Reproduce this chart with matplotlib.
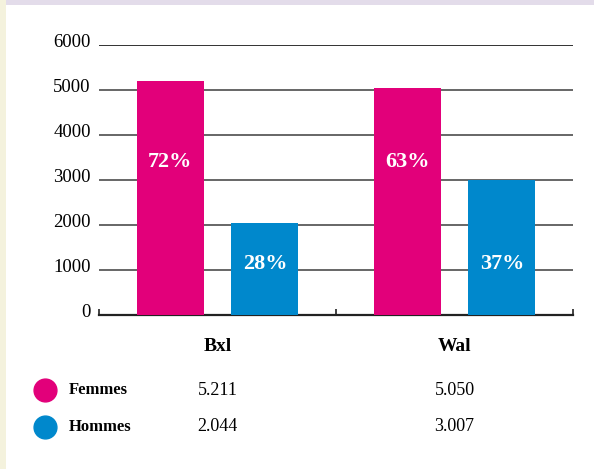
import matplotlib
matplotlib.use("Agg")
import matplotlib.pyplot as plt
import matplotlib.transforms as mtransforms
from matplotlib.patches import Rectangle

# ── Data ─────────────────────────────────────────────────────────────────────
categories = ["Bxl", "Wal"]
femmes     = [5211, 5050]
hommes     = [2044, 3007]
series     = ["Femmes", "Hommes"]
yticks     = [0, 1000, 2000, 3000, 4000, 5000, 6000]

PINK = "#e2007a"
BLUE = "#0088cc"
plt.rcParams["font.family"] = ["Liberation Serif", "DejaVu Serif"]

fig = plt.figure(figsize=(5.94, 4.69), dpi=100)
ax = fig.add_axes([99 / 594, 154 / 469, 474 / 594, 270 / 469])

# page decorations: pale left strip and lavender top strip
fig.add_artist(Rectangle((0, 0), 6 / 594, 1, transform=fig.transFigure,
                         color="#f4f2dd", lw=0))
fig.add_artist(Rectangle((6 / 594, 1 - 5 / 469), 1, 5 / 469,
                         transform=fig.transFigure, color="#e3dcea", lw=0))

x = list(range(len(categories)))
w, off = 0.283, 0.2
ax.bar([i - off for i in x], femmes, width=w, color=PINK, zorder=3)
ax.bar([i + off for i in x], hommes, width=w, color=BLUE, zorder=3)

# percentage labels inside bars
for i in x:
    tot = femmes[i] + hommes[i]
    ax.text(i - off, 3400, f"{round(100 * femmes[i] / tot)}%", color="white",
            ha="center", va="center", fontsize=16, fontweight="bold", zorder=4)
    ax.text(i + off, 1130, f"{round(100 * hommes[i] / tot)}%", color="white",
            ha="center", va="center", fontsize=16, fontweight="bold", zorder=4)

ax.set_xlim(-0.5, 1.5)
ax.set_ylim(0, 6000)
ax.set_yticks(yticks)
ax.set_yticklabels([str(t) for t in yticks], fontsize=13.5)
ax.tick_params(axis="y", length=0, pad=6)
# labels sit a little above their lines
shift = mtransforms.ScaledTranslation(0, 3 / 72, fig.dpi_scale_trans)
for lbl in ax.get_yticklabels():
    lbl.set_transform(lbl.get_transform() + shift)
for t in yticks[1:]:
    ax.axhline(t, color="#222222" if t == 6000 else "#5a5a5a", lw=1.3, zorder=1)

ax.set_xticks([-0.5, 0.5, 1.5])
ax.set_xticklabels([])
ax.tick_params(axis="x", direction="in", length=4, width=1.2, color="#222222")
for s in ["left", "right", "top"]:
    ax.spines[s].set_visible(False)
ax.spines["bottom"].set_color("#222222")
ax.spines["bottom"].set_linewidth(1.6)

tr = ax.get_xaxis_transform()
for i, c in enumerate(categories):
    ax.text(i, -0.115, c, transform=tr, ha="center", va="center",
            fontsize=14, fontweight="bold")

# legend rows with values
fmt = lambda v: f"{v:,}".replace(",", ".")
for row, (name, vals, col) in enumerate([(series[0], femmes, PINK),
                                          (series[1], hommes, BLUE)]):
    yy = -0.278 - row * 0.135
    ax.scatter([-0.728], [yy], s=270, color=col, transform=tr, clip_on=False)
    ax.text(-0.627, yy, name, transform=tr, ha="left", va="center",
            fontsize=12, fontweight="bold")
    for i in x:
        ax.text(i, yy, fmt(vals[i]), transform=tr, ha="center", va="center",
                fontsize=13)

fig.savefig("out.png", dpi=100)
